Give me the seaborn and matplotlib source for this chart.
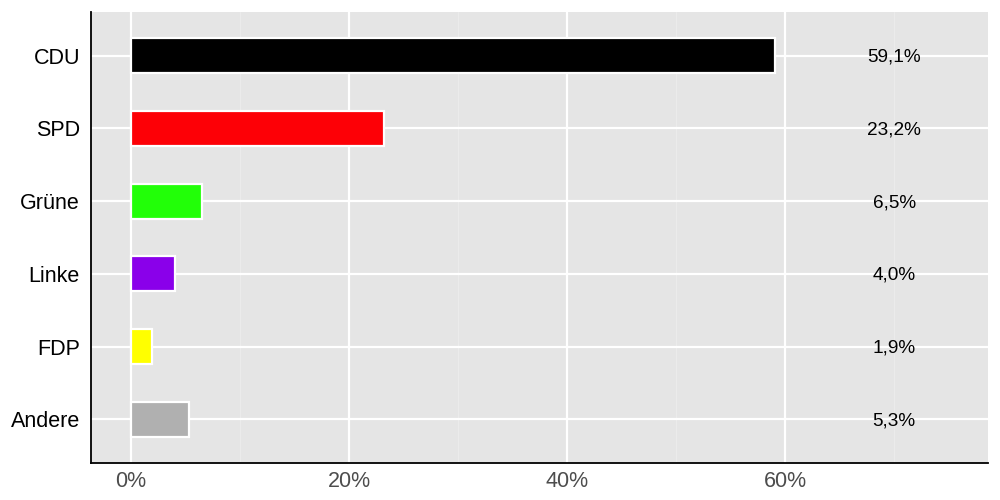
import matplotlib
matplotlib.use("Agg")
import matplotlib.pyplot as plt
import seaborn as sns
import pandas as pd
import numpy as np
from matplotlib.ticker import FixedLocator, FuncFormatter

parties = ["CDU", "SPD", "Grüne", "Linke", "FDP", "Andere"]
shares = [59.1, 23.2, 6.5, 4.0, 1.9, 5.3]
colors = ["#000000", "#fd0006", "#22ff08", "#8a00ea", "#ffff00", "#b0b0b0"]
label_x = 70

df = pd.DataFrame({"party": parties, "share": shares})

sns.set_style("darkgrid", {"axes.facecolor": "#e5e5e5"})
plt.rcParams["font.family"] = ["Liberation Sans", "DejaVu Sans"]

fig = plt.figure(figsize=(10, 5), dpi=100)
ax = fig.add_axes([0.091, 0.074, 0.897, 0.902])

sns.barplot(data=df, x="share", y="party", hue="party", palette=dict(zip(parties, colors)),
            saturation=1, orient="h", width=0.48, edgecolor="white", linewidth=1.6,
            legend=False, ax=ax, zorder=3)

# value labels in german format
for i, v in enumerate(shares):
    ax.text(label_x, i + 0.02, f"{v:.1f}%".replace(".", ","), ha="center", va="center",
            fontsize=13.7, color="black", zorder=4)

ax.set_xlim(-3.67, 78.6)
ax.set_ylim(5.6, -0.6)
ax.xaxis.set_major_locator(FixedLocator([0, 20, 40, 60]))
ax.xaxis.set_minor_locator(FixedLocator([10, 30, 50, 70]))
ax.xaxis.set_major_formatter(FuncFormatter(lambda x, p: f"{x:.0f}%"))
ax.grid(which="major", color="white", linewidth=1.6)
ax.grid(which="minor", axis="x", color="#ebebeb", linewidth=0.9)
ax.set_axisbelow(True)

ax.set_xlabel("")
ax.set_ylabel("")
ax.tick_params(axis="y", labelsize=15.5, labelcolor="black", length=0, pad=8)
ax.tick_params(axis="x", labelsize=15.5, labelcolor="#4d4d4d", length=0, pad=6)
ax.tick_params(which="minor", length=0)

for s in ["top", "right"]:
    ax.spines[s].set_visible(False)
for s in ["left", "bottom"]:
    ax.spines[s].set_visible(True)
    ax.spines[s].set_color("black")
    ax.spines[s].set_linewidth(1.3)

fig.savefig("out.png", dpi=100, facecolor="white")
